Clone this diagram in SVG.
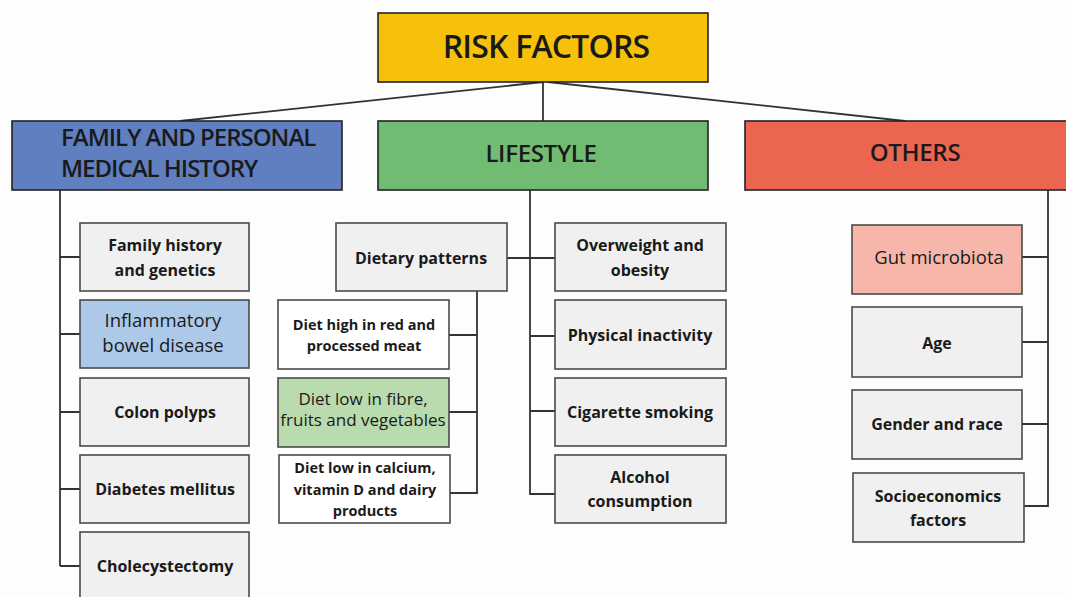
<svg xmlns="http://www.w3.org/2000/svg" width="1066" height="597" viewBox="0 0 1066 597">
<style>
.bx{stroke:#4a4a4a;stroke-width:1.6}
.hd{stroke:#222;stroke-width:1.6}
.g{fill:#f0f0f0}
.w{fill:#ffffff}
.t{font-family:"Open Sans","Noto Sans",sans-serif;font-size:16px;font-weight:700;fill:#1a1a1a;text-anchor:middle}
.n{font-weight:400;font-size:18.5px}
.s{font-size:14.5px}
.h{font-family:"Open Sans","Noto Sans",sans-serif;font-size:24px;font-weight:600;fill:#1a1a1a;letter-spacing:-0.3px}
.c{fill:none;stroke:#333;stroke-width:1.8}
</style>
<rect width="1066" height="597" fill="#fdfdfd"/>
<g id="connectors">
<path class="c" d="M543,82 L180,121 M543,82 V121 M548,82 L905,121"/>
<path class="c" d="M60,190 V566 M60,257 H80 M60,334 H80 M60,412 H80 M60,489 H80 M60,566 H80"/>
<path class="c" d="M530,190 V494 H555 M507,258 H555 M530,336 H555 M530,411 H555"/>
<path class="c" d="M477,291 V493 H450 M449,335 H477 M449,412 H477"/>
<path class="c" d="M1048,190 V506 H1023 M1022,257 H1048 M1022,342 H1048 M1022,424 H1048"/>
</g>
<g id="risk"><rect class="hd" x="378" y="13" width="330" height="69" fill="#f7c10b"/><text class="h" x="546" y="58" text-anchor="middle" style="font-size:32px;letter-spacing:-0.8px">RISK FACTORS</text></g>
<g id="family"><rect class="hd" x="12" y="121" width="330" height="69" fill="#607fc0"/><text class="h" x="61" y="146" style="letter-spacing:-1px">FAMILY AND PERSONAL</text><text class="h" x="61" y="177" style="letter-spacing:-1px">MEDICAL HISTORY</text></g>
<g id="lifestyle"><rect class="hd" x="378" y="121" width="330" height="69" fill="#72bb72"/><text class="h" x="541" y="162" text-anchor="middle">LIFESTYLE</text></g>
<g id="others"><rect class="hd" x="745" y="121" width="325" height="69" fill="#ec6551"/><text class="h" x="915" y="161" text-anchor="middle">OTHERS</text></g>

<g id="fam1"><rect class="bx g" x="80" y="223" width="169" height="68"/><text class="t" x="165" y="251">Family history</text><text class="t" x="165" y="276">and genetics</text></g>
<g id="fam2"><rect class="bx" x="80" y="300" width="169" height="68" fill="#adc9e9"/><text class="t n" x="163" y="327">Inflammatory</text><text class="t n" x="163" y="352">bowel disease</text></g>
<g id="fam3"><rect class="bx g" x="80" y="378" width="169" height="68"/><text class="t" x="165" y="418">Colon polyps</text></g>
<g id="fam4"><rect class="bx g" x="80" y="455" width="169" height="68"/><text class="t" x="165" y="495">Diabetes mellitus</text></g>
<g id="fam5"><rect class="bx g" x="80" y="532" width="169" height="72"/><text class="t" x="165" y="572">Cholecystectomy</text></g>

<g id="diet"><rect class="bx g" x="336" y="223" width="171" height="68"/><text class="t" x="421" y="264">Dietary patterns</text></g>
<g id="diet1"><rect class="bx w" x="278" y="300" width="171" height="69"/><text class="t s" x="364" y="330">Diet high in red and</text><text class="t s" x="364" y="351">processed meat</text></g>
<g id="diet2"><rect class="bx" x="278" y="378" width="171" height="69" fill="#b9dbae"/><text class="t n" x="363" y="405" style="font-size:17px">Diet low in fibre,</text><text class="t n" x="363" y="426" style="font-size:17px">fruits and vegetables</text></g>
<g id="diet3"><rect class="bx w" x="279" y="455" width="171" height="68"/><text class="t s" x="365" y="473">Diet low in calcium,</text><text class="t s" x="365" y="495">vitamin D and dairy</text><text class="t s" x="365" y="516">products</text></g>

<g id="life1"><rect class="bx g" x="555" y="223" width="171" height="68"/><text class="t" x="640" y="251">Overweight and</text><text class="t" x="640" y="276">obesity</text></g>
<g id="life2"><rect class="bx g" x="555" y="300" width="171" height="69"/><text class="t" x="640" y="341">Physical inactivity</text></g>
<g id="life3"><rect class="bx g" x="555" y="378" width="171" height="68"/><text class="t" x="640" y="418">Cigarette smoking</text></g>
<g id="life4"><rect class="bx g" x="555" y="455" width="171" height="68"/><text class="t" x="640" y="483">Alcohol</text><text class="t" x="640" y="507">consumption</text></g>

<g id="oth1"><rect class="bx" x="852" y="225" width="170" height="69" fill="#f6b6a9"/><text class="t n" x="939" y="264">Gut microbiota</text></g>
<g id="oth2"><rect class="bx g" x="852" y="307" width="170" height="70"/><text class="t" x="937" y="349">Age</text></g>
<g id="oth3"><rect class="bx g" x="852" y="390" width="170" height="69"/><text class="t" x="937" y="430">Gender and race</text></g>
<g id="oth4"><rect class="bx g" x="853" y="473" width="171" height="69"/><text class="t" x="938" y="502">Socioeconomics</text><text class="t" x="938" y="526">factors</text></g>
</svg>
